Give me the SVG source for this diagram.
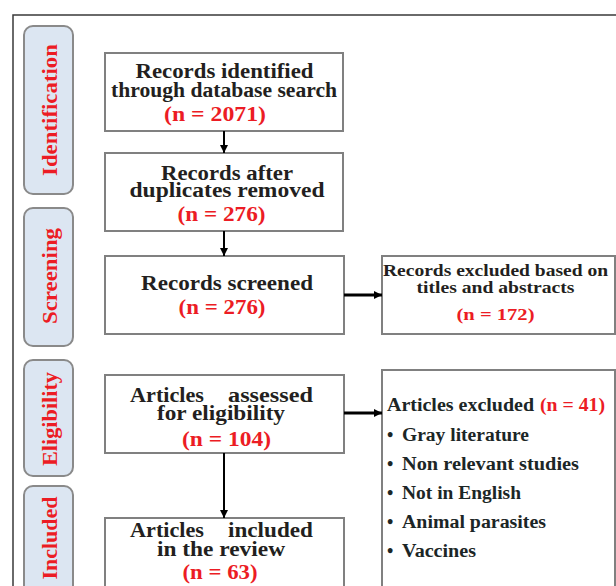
<svg xmlns="http://www.w3.org/2000/svg" width="616" height="586" viewBox="0 0 616 586">
<style>
.box{fill:#fff;stroke:#808080;stroke-width:2}
.lab{fill:#dce6f2;stroke:#8a8a8a;stroke-width:2}
.t{font-family:"Liberation Serif","Times New Roman",serif;font-weight:bold;fill:#231f20;font-size:20px}
.s{font-size:17px}
.m{font-size:18px;fill:#1c2626}
.c{text-anchor:middle}
.r{fill:#ec1c24}
.side{font-family:"Liberation Serif","Times New Roman",serif;font-weight:bold;font-size:20px;fill:#ec1c24;text-anchor:middle}
.conn{stroke:#000;stroke-width:2;fill:none}
.thick{stroke-width:3}
</style>
<defs>
<marker id="ah" markerUnits="userSpaceOnUse" markerWidth="8" markerHeight="8" refX="8" refY="4" orient="auto">
<path d="M0,0 L8,4 L0,8 z" fill="#000"/>
</marker>
</defs>
<rect width="616" height="586" fill="#fff"/>
<path d="M13,586 L13,15 L616,15" fill="none" stroke="#3a3a3a" stroke-width="1.5"/>

<g id="stage-identification">
<rect class="lab" x="24" y="26" width="49" height="168" rx="9"/>
<text class="side" transform="translate(57,110) rotate(-90)" textLength="132" lengthAdjust="spacingAndGlyphs">Identification</text>
</g>
<g id="stage-screening">
<rect class="lab" x="24" y="208" width="49" height="138" rx="9"/>
<text class="side" transform="translate(57,276) rotate(-90)" textLength="96" lengthAdjust="spacingAndGlyphs">Screening</text>
</g>
<g id="stage-eligibility">
<rect class="lab" x="24" y="360" width="49" height="116" rx="9"/>
<text class="side" transform="translate(57,419) rotate(-90)" textLength="94" lengthAdjust="spacingAndGlyphs">Eligibility</text>
</g>
<g id="stage-included">
<rect class="lab" x="24" y="486" width="49" height="120" rx="9"/>
<text class="side" transform="translate(57,538) rotate(-90)" textLength="83" lengthAdjust="spacingAndGlyphs">Included</text>
</g>

<g id="identified">
<rect class="box" x="105" y="53" width="238" height="78"/>
<text class="t c" x="224.5" y="78" textLength="178" lengthAdjust="spacingAndGlyphs">Records identified</text>
<text class="t c" x="224" y="97" textLength="226" lengthAdjust="spacingAndGlyphs">through database search</text>
<text class="t c r" x="215" y="121" textLength="102" lengthAdjust="spacingAndGlyphs">(n = 2071)</text>
</g>
<g id="deduplicated">
<rect class="box" x="105" y="153" width="238" height="78"/>
<text class="t c" x="227" y="180" textLength="132" lengthAdjust="spacingAndGlyphs">Records after</text>
<text class="t c" x="227" y="197" textLength="195" lengthAdjust="spacingAndGlyphs">duplicates removed</text>
<text class="t c r" x="221.5" y="221" textLength="88" lengthAdjust="spacingAndGlyphs">(n = 276)</text>
</g>
<g id="screened">
<rect class="box" x="105" y="256" width="239" height="78"/>
<text class="t c" x="227" y="290" textLength="172" lengthAdjust="spacingAndGlyphs">Records screened</text>
<text class="t c r" x="222" y="314" textLength="87" lengthAdjust="spacingAndGlyphs">(n = 276)</text>
</g>
<g id="excluded-titles">
<rect class="box" x="382" y="256" width="233" height="78"/>
<text class="t s c" x="495.5" y="276" textLength="225" lengthAdjust="spacingAndGlyphs">Records excluded based on</text>
<text class="t s c" x="495.5" y="293" textLength="158" lengthAdjust="spacingAndGlyphs">titles and abstracts</text>
<text class="t s c r" x="495.5" y="320" textLength="78" lengthAdjust="spacingAndGlyphs">(n = 172)</text>
</g>
<g id="assessed">
<rect class="box" x="105" y="375" width="239" height="78"/>
<text class="t" x="130" y="402" textLength="74" lengthAdjust="spacingAndGlyphs">Articles</text>
<text class="t" x="228" y="402" textLength="85" lengthAdjust="spacingAndGlyphs">assessed</text>
<text class="t c" x="221" y="420" textLength="128" lengthAdjust="spacingAndGlyphs">for eligibility</text>
<text class="t c r" x="226.5" y="446" textLength="89" lengthAdjust="spacingAndGlyphs">(n = 104)</text>
</g>
<g id="excluded-articles">
<rect class="box" x="382" y="370" width="233" height="230"/>
<text class="t m" x="387" y="411" textLength="147" lengthAdjust="spacingAndGlyphs">Articles excluded</text>
<text class="t m r" x="540" y="411" textLength="65" lengthAdjust="spacingAndGlyphs">(n = 41)</text>
<text class="t m" x="387" y="441">•</text>
<text class="t m" x="402" y="441" textLength="127" lengthAdjust="spacingAndGlyphs">Gray literature</text>
<text class="t m" x="387" y="470">•</text>
<text class="t m" x="402" y="470" textLength="177" lengthAdjust="spacingAndGlyphs">Non relevant studies</text>
<text class="t m" x="387" y="499">•</text>
<text class="t m" x="402" y="499" textLength="119" lengthAdjust="spacingAndGlyphs">Not in English</text>
<text class="t m" x="387" y="528">•</text>
<text class="t m" x="402" y="528" textLength="144" lengthAdjust="spacingAndGlyphs">Animal parasites</text>
<text class="t m" x="387" y="557">•</text>
<text class="t m" x="402" y="557" textLength="74" lengthAdjust="spacingAndGlyphs">Vaccines</text>
</g>
<g id="included">
<rect class="box" x="105" y="518" width="239" height="80"/>
<text class="t" x="130" y="537" textLength="74" lengthAdjust="spacingAndGlyphs">Articles</text>
<text class="t" x="228" y="537" textLength="85" lengthAdjust="spacingAndGlyphs">included</text>
<text class="t c" x="221" y="556" textLength="128" lengthAdjust="spacingAndGlyphs">in the review</text>
<text class="t c r" x="220" y="579" textLength="75" lengthAdjust="spacingAndGlyphs">(n = 63)</text>
</g>

<g id="connectors">
<path class="conn" d="M224,131 L224,153" marker-end="url(#ah)"/>
<path class="conn" d="M224,231 L224,256" marker-end="url(#ah)"/>
<path class="conn thick" d="M344,295 L382,295" marker-end="url(#ah)"/>
<path class="conn thick" d="M344,413 L382,413" marker-end="url(#ah)"/>
<path class="conn" d="M224,453 L224,518" marker-end="url(#ah)"/>
</g>
</svg>
